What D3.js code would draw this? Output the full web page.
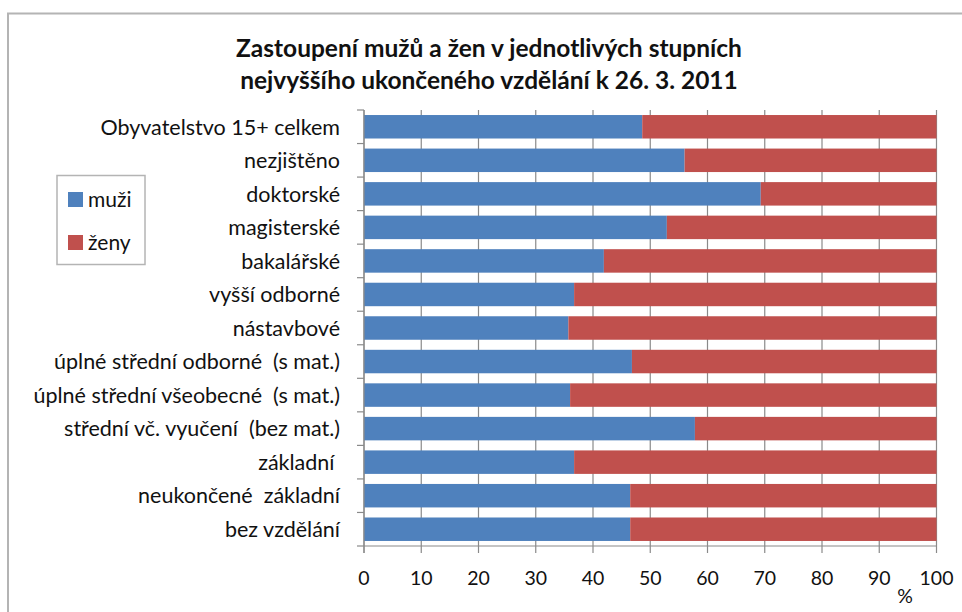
<!DOCTYPE html>
<html>
<head>
<meta charset="utf-8">
<script src="https://cdn.jsdelivr.net/npm/d3@7"></script>
<style>
  body { margin: 0; background: #fff; }
  svg text { font-family: Lato, "Open Sans", sans-serif; fill: #111; white-space: pre; }
</style>
</head>
<body>
<div id="chart"></div>
<script>
const categories = [
    "Obyvatelstvo 15+ celkem",
    "nezjištěno",
    "doktorské",
    "magisterské",
    "bakalářské",
    "vyšší odborné",
    "nástavbové",
    "úplné střední odborné  (s mat.)",
    "úplné střední všeobecné  (s mat.)",
    "střední vč. vyučení  (bez mat.)",
    "základní ",
    "neukončené  základní",
    "bez vzdělání"
];
// share of men in %, women = 100 - men
const muzi = [48.6, 56.0, 69.3, 52.9, 41.9, 36.7, 35.7, 46.8, 36.0, 57.8, 36.7, 46.5, 46.5];
const zeny = muzi.map(v => +(100 - v).toFixed(1));
const series = ["muži", "ženy"];
const colors = ["#4f81bd", "#c0504d"];
const xTicks = [0, 10, 20, 30, 40, 50, 60, 70, 80, 90, 100];
const titleLines = ["Zastoupení mužů a žen v jednotlivých stupních",
                    "nejvyššího ukončeného vzdělání k 26. 3. 2011"];

const width = 962, height = 612;
const plot = {left: 364, right: 936.5, top: 110, bottom: 546};

const svg = d3.select("#chart").append("svg")
    .attr("width", width)
    .attr("height", height);

// outer chart frame (right & bottom edges are cut off in the reference)
svg.append("rect")
    .attr("x", 8).attr("y", 13.5)
    .attr("width", 1000).attr("height", 700)
    .attr("fill", "none")
    .attr("stroke", "#b4b4b4")
    .attr("stroke-width", 2);

svg.append("g")
    .attr("class", "title")
    .selectAll("text")
    .data(titleLines)
    .enter().append("text")
    .attr("x", 489)
    .attr("y", (d, i) => 56.5 + i * 32)
    .attr("text-anchor", "middle")
    .attr("font-size", 24.5)
    .attr("font-weight", "bold")
    .text(d => d);

const x = d3.scaleLinear()
    .domain([0, 100])
    .range([plot.left, plot.right]);

const y = d3.scaleBand()
    .domain(categories)
    .range([plot.top, plot.bottom])
    .paddingInner(0.3)
    .paddingOuter(0.15);

// vertical gridlines
svg.append("g")
    .attr("class", "grid")
    .selectAll("line")
    .data(xTicks)
    .enter().append("line")
    .attr("x1", d => x(d)).attr("x2", d => x(d))
    .attr("y1", plot.top).attr("y2", plot.bottom)
    .attr("stroke", "#8a8a8a")
    .attr("stroke-width", 1.2);

const stack = d3.stack().keys(series)(categories.map((c, i) => ({
    cat: c, "muži": muzi[i], "ženy": zeny[i]
})));

svg.append("g")
    .attr("class", "bars")
    .selectAll("g")
    .data(stack)
    .enter().append("g")
    .attr("fill", (d, i) => colors[i])
    .selectAll("rect")
    .data(d => d)
    .enter().append("rect")
    .attr("x", d => x(d[0]))
    .attr("y", d => y(d.data.cat))
    .attr("width", d => x(d[1]) - x(d[0]))
    .attr("height", y.bandwidth());

// y axis: line + ticks between categories
const yAxis = svg.append("g").attr("class", "y-axis");
const step = y.step();
const bounds = d3.range(categories.length + 1).map(i => plot.top + i * step);
yAxis.append("line")
    .attr("x1", plot.left).attr("x2", plot.left)
    .attr("y1", plot.top).attr("y2", plot.bottom + 7)
    .attr("stroke", "#8a8a8a").attr("stroke-width", 1.2);
yAxis.selectAll("line.tick")
    .data(bounds)
    .enter().append("line")
    .attr("class", "tick")
    .attr("x1", plot.left - 7).attr("x2", plot.left)
    .attr("y1", d => d).attr("y2", d => d)
    .attr("stroke", "#8a8a8a").attr("stroke-width", 1.2);
yAxis.selectAll("text")
    .data(categories)
    .enter().append("text")
    .attr("x", 340)
    .attr("y", d => y(d) + y.bandwidth() / 2)
    .attr("dy", "0.36em")
    .attr("text-anchor", "end")
    .attr("font-size", 21.5)
    .text(d => d);

// x axis
const xAxis = svg.append("g").attr("class", "x-axis");
xAxis.append("line")
    .attr("x1", plot.left).attr("x2", plot.right)
    .attr("y1", plot.bottom).attr("y2", plot.bottom)
    .attr("stroke", "#8a8a8a").attr("stroke-width", 1.2);
xAxis.selectAll("line.tick")
    .data(xTicks)
    .enter().append("line")
    .attr("class", "tick")
    .attr("x1", d => x(d)).attr("x2", d => x(d))
    .attr("y1", plot.bottom).attr("y2", plot.bottom + 7)
    .attr("stroke", "#8a8a8a").attr("stroke-width", 1.2);
xAxis.selectAll("text")
    .data(xTicks)
    .enter().append("text")
    .attr("x", d => x(d))
    .attr("y", 578)
    .attr("dy", "0.36em")
    .attr("text-anchor", "middle")
    .attr("font-size", 19.5)
    .text(d => d);
xAxis.append("text")
    .attr("x", 905).attr("y", 596)
    .attr("dy", "0.36em")
    .attr("text-anchor", "middle")
    .attr("font-size", 19.5)
    .text("%");

// legend
const legend = svg.append("g").attr("class", "legend");
legend.append("rect")
    .attr("x", 57).attr("y", 175.5)
    .attr("width", 88).attr("height", 89)
    .attr("fill", "#fff")
    .attr("stroke", "#b4b4b4")
    .attr("stroke-width", 1.5);
const item = legend.selectAll("g.item")
    .data(series)
    .enter().append("g")
    .attr("class", "item")
    .attr("transform", (d, i) => `translate(68, ${192 + i * 43})`);
item.append("rect")
    .attr("width", 15).attr("height", 15)
    .attr("fill", (d, i) => colors[i]);
item.append("text")
    .attr("x", 20).attr("y", 7.5)
    .attr("dy", "0.36em")
    .attr("font-size", 21)
    .text(d => d);
</script>
</body>
</html>
